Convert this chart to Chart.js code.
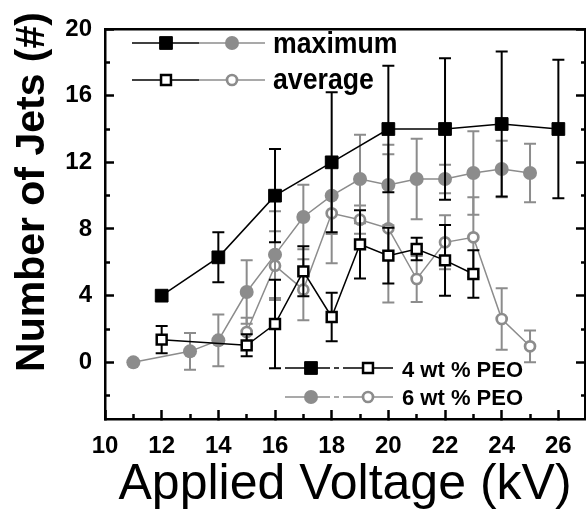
<!DOCTYPE html>
<html>
<head>
<meta charset="utf-8">
<script src="https://cdn.jsdelivr.net/npm/chart.js"></script>
<style>
  html, body { margin: 0; padding: 0; background: #fff; }
  #wrap { width: 586px; height: 510px; }
</style>
</head>
<body>
<div id="wrap"><canvas id="jets"></canvas></div>
<script>
// 4 wt % PEO
const volt4Max = [12, 14, 16, 18, 20, 22, 24, 26];
const max4 = [4.0, 6.3, 10.0, 12.0, 14.0, 14.0, 14.3, 14.0];
const max4Err = [0, 1.5, 2.8, 4.2, 3.8, 4.25, 4.35, 4.15];

const volt4Avg = [12, 15, 16, 17, 18, 19, 20, 21, 22, 23];
const avg4 = [1.36, 1.02, 2.3, 5.46, 2.72, 7.08, 6.4, 6.8, 6.12, 5.3];
const avg4Err = [0.82, 0.66, 2.65, 1.5, 1.45, 2.05, 1.67, 0.68, 2.12, 1.42];

// 6 wt % PEO
const volt6Max = [11, 13, 14, 15, 16, 17, 18, 19, 20, 21, 22, 23, 24, 25];
const max6 = [0, 0.66, 1.32, 4.22, 6.46, 8.72, 10.0, 11.0, 10.64, 11.0, 11.0, 11.36, 11.6, 11.36];
const max6Err = [0, 1.1, 1.55, 1.9, 2.6, 1.94, 2.3, 2.66, 2.42, 2.42, 0.85, 2.5, 1.7, 1.76];

const volt6Avg = [15, 16, 17, 18, 19, 20, 21, 22, 23, 24, 25];
const avg6 = [1.82, 5.8, 4.36, 8.94, 8.56, 8.04, 5.0, 7.2, 7.5, 2.6, 0.96];
const avg6Err = [0.85, 2.06, 1.83, 3.0, 0.85, 4.45, 1.38, 1.62, 2.4, 1.85, 0.95];

// axis ticks
const xMajorTicks = [10, 12, 14, 16, 18, 20, 22, 24, 26];
const xMinorTicks = [11, 13, 15, 17, 19, 21, 23, 25];
const yMajorTicks = [0, 4, 8, 12, 16, 20];
const yMinorTicks = [-2, 2, 6, 10, 14, 18];

const GRAY = '#8c8c8c';
const FONT = 'Liberation Sans, Arial, sans-serif';
const X_MIN = 10, X_MAX = 26.94, Y_MIN = -3.4, Y_MAX = 20;

const toPoints = (xs, ys) => xs.map((x, i) => ({ x: x, y: ys[i] }));
const fixedTicks = list => scale => { scale.ticks = list.map(v => ({ value: v })); };
// fixed box size, and no extra room for labels sticking out at the ends
const fixedSize = (dim, px) => scale => {
  scale[dim] = px;
  scale.paddingLeft = scale.paddingRight = scale.paddingTop = scale.paddingBottom = 0;
};

const data = {
  datasets: [
    {
      label: '4 wt % PEO maximum',
      data: toPoints(volt4Max, max4),
      errors: max4Err,
      borderColor: '#000',
      borderWidth: 1.5,
      pointStyle: 'rect',
      pointRadius: 9,
      pointBackgroundColor: '#000',
      pointBorderColor: '#000',
      pointBorderWidth: 1,
      showLine: true,
    },
    {
      label: '4 wt % PEO average',
      data: toPoints(volt4Avg, avg4),
      errors: avg4Err,
      borderColor: '#000',
      borderWidth: 1.5,
      pointStyle: 'rect',
      pointRadius: 7,
      pointBackgroundColor: '#fff',
      pointBorderColor: '#000',
      pointBorderWidth: 2.5,
      showLine: true,
    },
    {
      label: '6 wt % PEO maximum',
      data: toPoints(volt6Max, max6),
      errors: max6Err,
      borderColor: GRAY,
      borderWidth: 1.5,
      pointStyle: 'circle',
      pointRadius: 7,
      pointBackgroundColor: GRAY,
      pointBorderColor: GRAY,
      pointBorderWidth: 0,
      showLine: true,
    },
    {
      label: '6 wt % PEO average',
      data: toPoints(volt6Avg, avg6),
      errors: avg6Err,
      borderColor: GRAY,
      borderWidth: 1.5,
      pointStyle: 'circle',
      pointRadius: 5,
      pointBackgroundColor: '#fff',
      pointBorderColor: GRAY,
      pointBorderWidth: 2.7,
      showLine: true,
    },
  ],
};

// error bars drawn just under each dataset
const errorBars = {
  id: 'errorBars',
  beforeDatasetDraw(chart, args) {
    const ds = chart.data.datasets[args.index];
    if (!ds.errors) return;
    const ctx = chart.ctx;
    const xs = chart.scales.x, ys = chart.scales.y;
    ctx.save();
    ctx.strokeStyle = ds.borderColor;
    ctx.lineWidth = 2;
    ds.data.forEach((p, i) => {
      const e = ds.errors[i];
      if (!e) return;
      const px = xs.getPixelForValue(p.x);
      const top = ys.getPixelForValue(p.y + e);
      const bot = ys.getPixelForValue(p.y - e);
      ctx.beginPath();
      ctx.moveTo(px, top); ctx.lineTo(px, bot);
      ctx.moveTo(px - 6, top); ctx.lineTo(px + 6, top);
      ctx.moveTo(px - 6, bot); ctx.lineTo(px + 6, bot);
      ctx.stroke();
    });
    ctx.restore();
  },
};

function drawMarker(ctx, ds, x, y) {
  ctx.save();
  ctx.fillStyle = ds.pointBackgroundColor;
  ctx.strokeStyle = ds.pointBorderColor;
  ctx.lineWidth = ds.pointBorderWidth;
  const r = ds.pointRadius;
  ctx.beginPath();
  if (ds.pointStyle === 'rect') {
    const h = r * Math.SQRT1_2;
    ctx.rect(x - h, y - h, 2 * h, 2 * h);
  } else {
    ctx.arc(x, y, r, 0, Math.PI * 2);
  }
  ctx.fill();
  if (ds.pointBorderWidth > 0) ctx.stroke();
  ctx.restore();
}

function drawSegment(ctx, ds, x1, x2, y) {
  ctx.save();
  ctx.strokeStyle = ds.borderColor;
  ctx.lineWidth = 1.5;
  ctx.beginPath();
  ctx.moveTo(x1, y); ctx.lineTo(x2, y);
  ctx.stroke();
  ctx.restore();
}

// the two legends and the y title
const annotations = {
  id: 'annotations',
  afterDraw(chart) {
    const ctx = chart.ctx;
    const ds = chart.data.datasets;

    // top legend: maximum / average
    [[0, 2, 43, 'maximum', 53], [1, 3, 80, 'average', 89]].forEach(([a, b, y, text, base]) => {
      drawSegment(ctx, ds[a], 132, 199, y);
      drawSegment(ctx, ds[b], 199, 265, y);
      drawMarker(ctx, ds[a], 166, y);
      drawMarker(ctx, ds[b], 232, y);
      ctx.save();
      ctx.fillStyle = '#000';
      ctx.font = 'bold 29px ' + FONT;
      ctx.textBaseline = 'alphabetic';
      ctx.translate(273, base);
      ctx.scale(0.92, 1);
      ctx.fillText(text, 0, 0);
      ctx.restore();
    });

    // bottom legend: 4 wt % / 6 wt %
    [[0, 1, 368, '4 wt % PEO', 377], [2, 3, 397, '6 wt % PEO', 405]].forEach(([a, b, y, text, base]) => {
      drawSegment(ctx, ds[a], 285, 330, y);
      drawSegment(ctx, ds[b], 334, 339, y);
      drawSegment(ctx, ds[b], 343, 393, y);
      drawMarker(ctx, ds[a], 311, y);
      drawMarker(ctx, ds[b], 368, y);
      ctx.save();
      ctx.fillStyle = '#000';
      ctx.font = 'bold 22px ' + FONT;
      ctx.textBaseline = 'alphabetic';
      ctx.fillText(text, 402, base);
      ctx.restore();
    });

    // y axis title
    ctx.save();
    ctx.fillStyle = '#000';
    ctx.font = 'bold 41px ' + FONT;
    ctx.textAlign = 'center';
    ctx.textBaseline = 'alphabetic';
    ctx.translate(44, 192);
    ctx.rotate(-Math.PI / 2);
    ctx.fillText('Number of Jets (#)', 0, 0);
    ctx.restore();
  },
};

const tickFont = { family: FONT, size: 24, weight: 'bold' };
const hiddenTicks = { display: false };

new Chart(document.getElementById('jets').getContext('2d'), {
  type: 'scatter',
  data: data,
  plugins: [errorBars, annotations],
  options: {
    responsive: true,
    maintainAspectRatio: false,
    animation: false,
    layout: { autoPadding: false, padding: { top: 29, right: 0, left: 0, bottom: 0 } },
    plugins: { legend: { display: false }, tooltip: { enabled: false } },
    scales: {
      x: {
        type: 'linear', axis: 'x', position: 'bottom', weight: 1,
        min: X_MIN, max: X_MAX,
        afterBuildTicks: fixedTicks(xMajorTicks),
        afterFit: fixedSize('height', 91),
        ticks: { font: tickFont, color: '#000', padding: 22, autoSkip: false, maxRotation: 0 },
        grid: { drawOnChartArea: false, tickLength: -9, tickWidth: 2.5, tickColor: '#000' },
        border: { display: true, color: '#000', width: 2.5 },
        title: {
          display: true, text: 'Applied Voltage (kV)', color: '#000',
          font: { family: FONT, size: 50, lineHeight: 1.0 }, padding: { top: 0, bottom: 0 },
        },
      },
      xMinor: {
        type: 'linear', axis: 'x', position: 'bottom', weight: 0,
        min: X_MIN, max: X_MAX,
        afterBuildTicks: fixedTicks(xMinorTicks),
        afterFit: fixedSize('height', 0),
        ticks: hiddenTicks,
        grid: { drawOnChartArea: false, tickLength: -5, tickWidth: 2.5, tickColor: '#000' },
        border: { display: false },
      },
      xTop: {
        type: 'linear', axis: 'x', position: 'top',
        min: X_MIN, max: X_MAX,
        afterFit: fixedSize('height', 0),
        ticks: hiddenTicks,
        grid: { drawOnChartArea: false, drawTicks: false },
        border: { display: true, color: '#000', width: 2.5 },
      },
      y: {
        type: 'linear', axis: 'y', position: 'left', weight: 1,
        min: Y_MIN, max: Y_MAX,
        afterBuildTicks: fixedTicks(yMajorTicks),
        afterFit: fixedSize('width', 105),
        ticks: { font: tickFont, color: '#000', padding: 22, autoSkip: false },
        grid: { drawOnChartArea: false, tickLength: -9, tickWidth: 2.5, tickColor: '#000' },
        border: { display: true, color: '#000', width: 2.5 },
      },
      yMinor: {
        type: 'linear', axis: 'y', position: 'left', weight: 0,
        min: Y_MIN, max: Y_MAX,
        afterBuildTicks: fixedTicks(yMinorTicks),
        afterFit: fixedSize('width', 0),
        ticks: hiddenTicks,
        grid: { drawOnChartArea: false, tickLength: -5, tickWidth: 2.5, tickColor: '#000' },
        border: { display: false },
      },
      yRight: {
        type: 'linear', axis: 'y', position: 'right', weight: 0,
        min: Y_MIN, max: Y_MAX,
        afterBuildTicks: fixedTicks(yMajorTicks),
        afterFit: fixedSize('width', 1),
        ticks: hiddenTicks,
        grid: { drawOnChartArea: false, tickLength: -9, tickWidth: 2.5, tickColor: '#000' },
        border: { display: true, color: '#000', width: 2.5 },
      },
      yRightMinor: {
        type: 'linear', axis: 'y', position: 'right', weight: 1,
        min: Y_MIN, max: Y_MAX,
        afterBuildTicks: fixedTicks(yMinorTicks),
        afterFit: fixedSize('width', 0),
        ticks: hiddenTicks,
        grid: { drawOnChartArea: false, tickLength: -5, tickWidth: 2.5, tickColor: '#000' },
        border: { display: false },
      },
    },
  },
});
</script>
</body>
</html>
